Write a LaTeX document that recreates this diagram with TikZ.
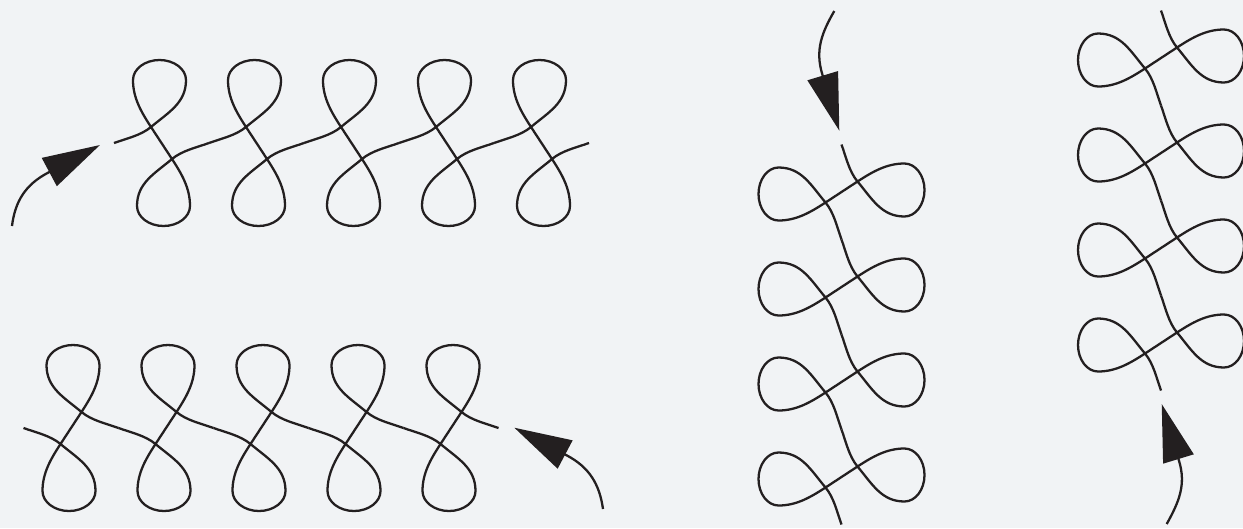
\documentclass[tikz,border=0pt]{standalone}
\usepackage{xcolor}
\usepackage{tikz}
\usetikzlibrary{arrows.meta}
\definecolor{ink}{HTML}{231F20}
\definecolor{paper}{HTML}{F1F3F5}

\begin{document}
\begin{tikzpicture}[
  x=0.02cm,y=0.02cm,
  knot/.style={line width=1.3pt,ink},
  arr/.style={-{Triangle[length=1.15cm,width=0.63cm]},line width=1.3pt,ink},
  strand/.pic={
    \draw[knot] (-47.5,0) .. controls (-35.3,4.4) and (-20.5,7.6) .. (-10.5,16)
      .. controls (7.1,30.8) and (24.5,40) .. (24.5,63)
      .. controls (24.5,74) and (12.6,83) .. (-2,83)
      .. controls (-16.6,83) and (-28.5,74) .. (-28.5,63)
      .. controls (-28.5,45) and (-20.3,31.1) .. (-10.5,16)
      -- (10.5,-16)
      .. controls (20.3,-31.1) and (28.5,-45) .. (28.5,-63)
      .. controls (28.5,-74) and (16.6,-83) .. (2,-83)
      .. controls (-12.6,-83) and (-24.5,-74) .. (-24.5,-63)
      .. controls (-24.5,-40) and (-7.1,-30.8) .. (10.5,-16)
      .. controls (20.5,-7.6) and (35.3,-4.4) .. (47.5,0);
  }
]
\fill[paper] (0,0) rectangle (1243,-528);
\useasboundingbox (0,0) rectangle (1243,-528);

\begin{scope}[shift={(161.5,-143)}]
  \foreach \i in {0,...,4} \pic[transform shape] at (\i*95,0) {strand};
\end{scope}
\begin{scope}[shift={(71,-428)},yscale=-1]
  \foreach \i in {0,...,4} \pic[transform shape] at (\i*95,0) {strand};
\end{scope}
\begin{scope}[shift={(841.5,-192)},rotate=-90]
  \foreach \i in {0,...,3} \pic[transform shape] at (\i*95,0) {strand};
\end{scope}
\begin{scope}[shift={(1161,-58)},rotate=-90]
  \foreach \i in {0,...,3} \pic[transform shape] at (\i*95,0) {strand};
\end{scope}

\coordinate (t1) at (12,-226);
\coordinate (b1) at (47.5,-173);
\coordinate (h1) at (100,-145);
\coordinate (t2) at (603,-509);
\coordinate (b2) at (567,-455.5);
\coordinate (h2) at (514.3,-427.7);
\coordinate (t3) at (834.3,-11);
\coordinate (b3) at (822.3,-74.3);
\coordinate (h3) at (839.3,-130.7);
\coordinate (t4) at (1166.7,-524);
\coordinate (b4) at (1179,-460.8);
\coordinate (h4) at (1161.7,-404);

\draw[arr] (t1) to[out=83,in=208] (b1) -- (h1);
\draw[arr] (t2) to[out=98,in=-28] (b2) -- (h2);
\draw[arr] (t3) to[out=240,in=107] (b3) -- (h3);
\draw[arr] (t4) to[out=61,in=-73] (b4) -- (h4);
\end{tikzpicture}
\end{document}
